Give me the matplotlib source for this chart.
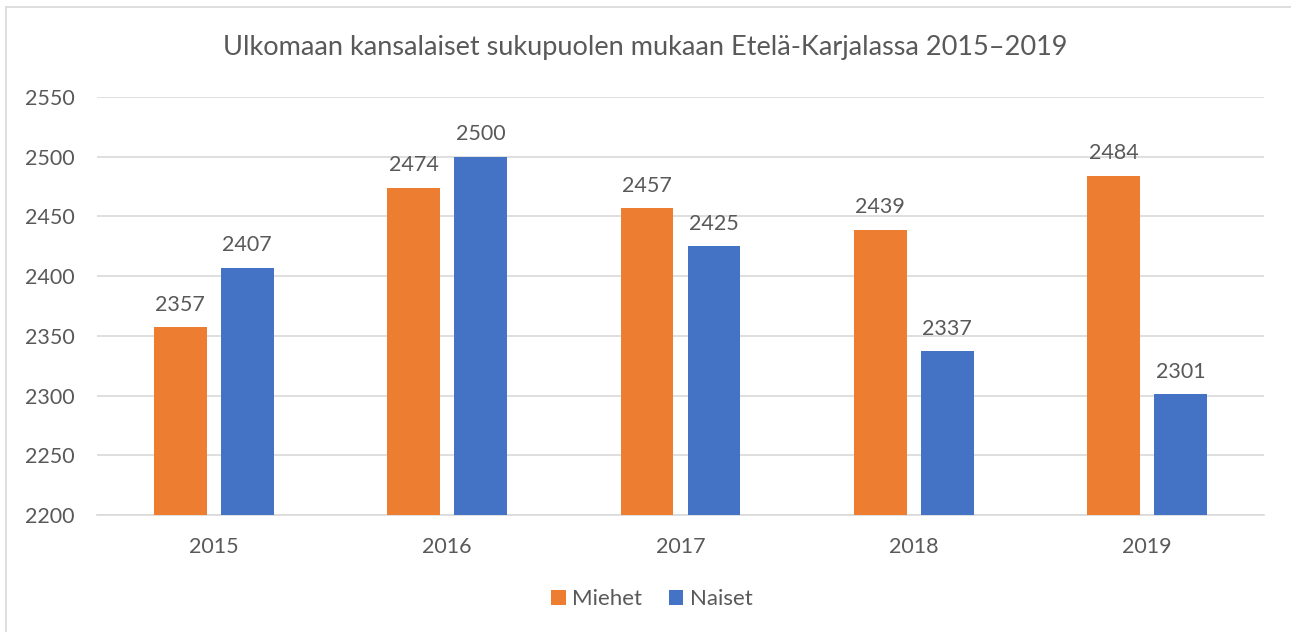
import numpy as np
import matplotlib
matplotlib.use("Agg")
import matplotlib.pyplot as plt
from matplotlib.lines import Line2D

years = ["2015", "2016", "2017", "2018", "2019"]
miehet = [2357, 2474, 2457, 2439, 2484]
naiset = [2407, 2500, 2425, 2337, 2301]

orange = "#ED7D31"
blue = "#4472C4"
txt = "#595959"
grid = "#D9D9D9"

plt.rcParams["font.family"] = ["Lato", "DejaVu Sans"]

fig = plt.figure(figsize=(12.91, 6.32), dpi=100)
ax = fig.add_axes([97 / 1291, 1 - 515 / 632, 1167 / 1291, 418 / 632])

x = np.arange(len(years))
w = 0.227
off = 0.1435
b1 = ax.bar(x - off, [v - 2200 for v in miehet], w, bottom=2200, color=orange, label="Miehet", zorder=3)
b2 = ax.bar(x + off, [v - 2200 for v in naiset], w, bottom=2200, color=blue, label="Naiset", zorder=3)

for bars, vals in ((b1, miehet), (b2, naiset)):
    for r, v in zip(bars, vals):
        ax.annotate(str(v), (r.get_x() + r.get_width() / 2, v), xytext=(0, 9),
                    textcoords="offset points", ha="center", va="bottom",
                    fontsize=15.5, color=txt)

ax.set_xlim(-0.5, len(years) - 0.5)
ax.set_ylim(2200, 2550)
ax.set_yticks(np.arange(2200, 2551, 50))
ax.set_xticks(x)
ax.set_xticklabels(years)
ax.tick_params(axis="both", length=0, labelsize=15.5, colors=txt)
ax.tick_params(axis="y", pad=16)
ax.tick_params(axis="x", pad=16)
ax.yaxis.grid(True, color=grid, linewidth=1.2, zorder=0)
for s in ["top", "right", "left"]:
    ax.spines[s].set_visible(False)
ax.spines["bottom"].set_color(grid)
ax.spines["bottom"].set_linewidth(1.2)

fig.text(0.5, 1 - 47 / 632, "Ulkomaan kansalaiset sukupuolen mukaan Etelä-Karjalassa 2015–2019",
         ha="center", va="center", fontsize=19.5, color=txt)

fig.legend(handles=[b1, b2], labels=["Miehet", "Naiset"], loc="center",
           bbox_to_anchor=(652 / 1291, 1 - 599 / 632), ncol=2, frameon=False,
           fontsize=16, labelcolor=txt, handlelength=0.65, handleheight=0.65,
           handletextpad=0.3, columnspacing=1.2)

# outer chart frame (left and top edges visible)
fig.add_artist(Line2D([6 / 1291, 6 / 1291], [0, 1 - 7 / 632], color=grid, lw=1.2))
fig.add_artist(Line2D([6 / 1291, 1], [1 - 7 / 632, 1 - 7 / 632], color=grid, lw=1.2))

fig.savefig("out.png", dpi=100)
